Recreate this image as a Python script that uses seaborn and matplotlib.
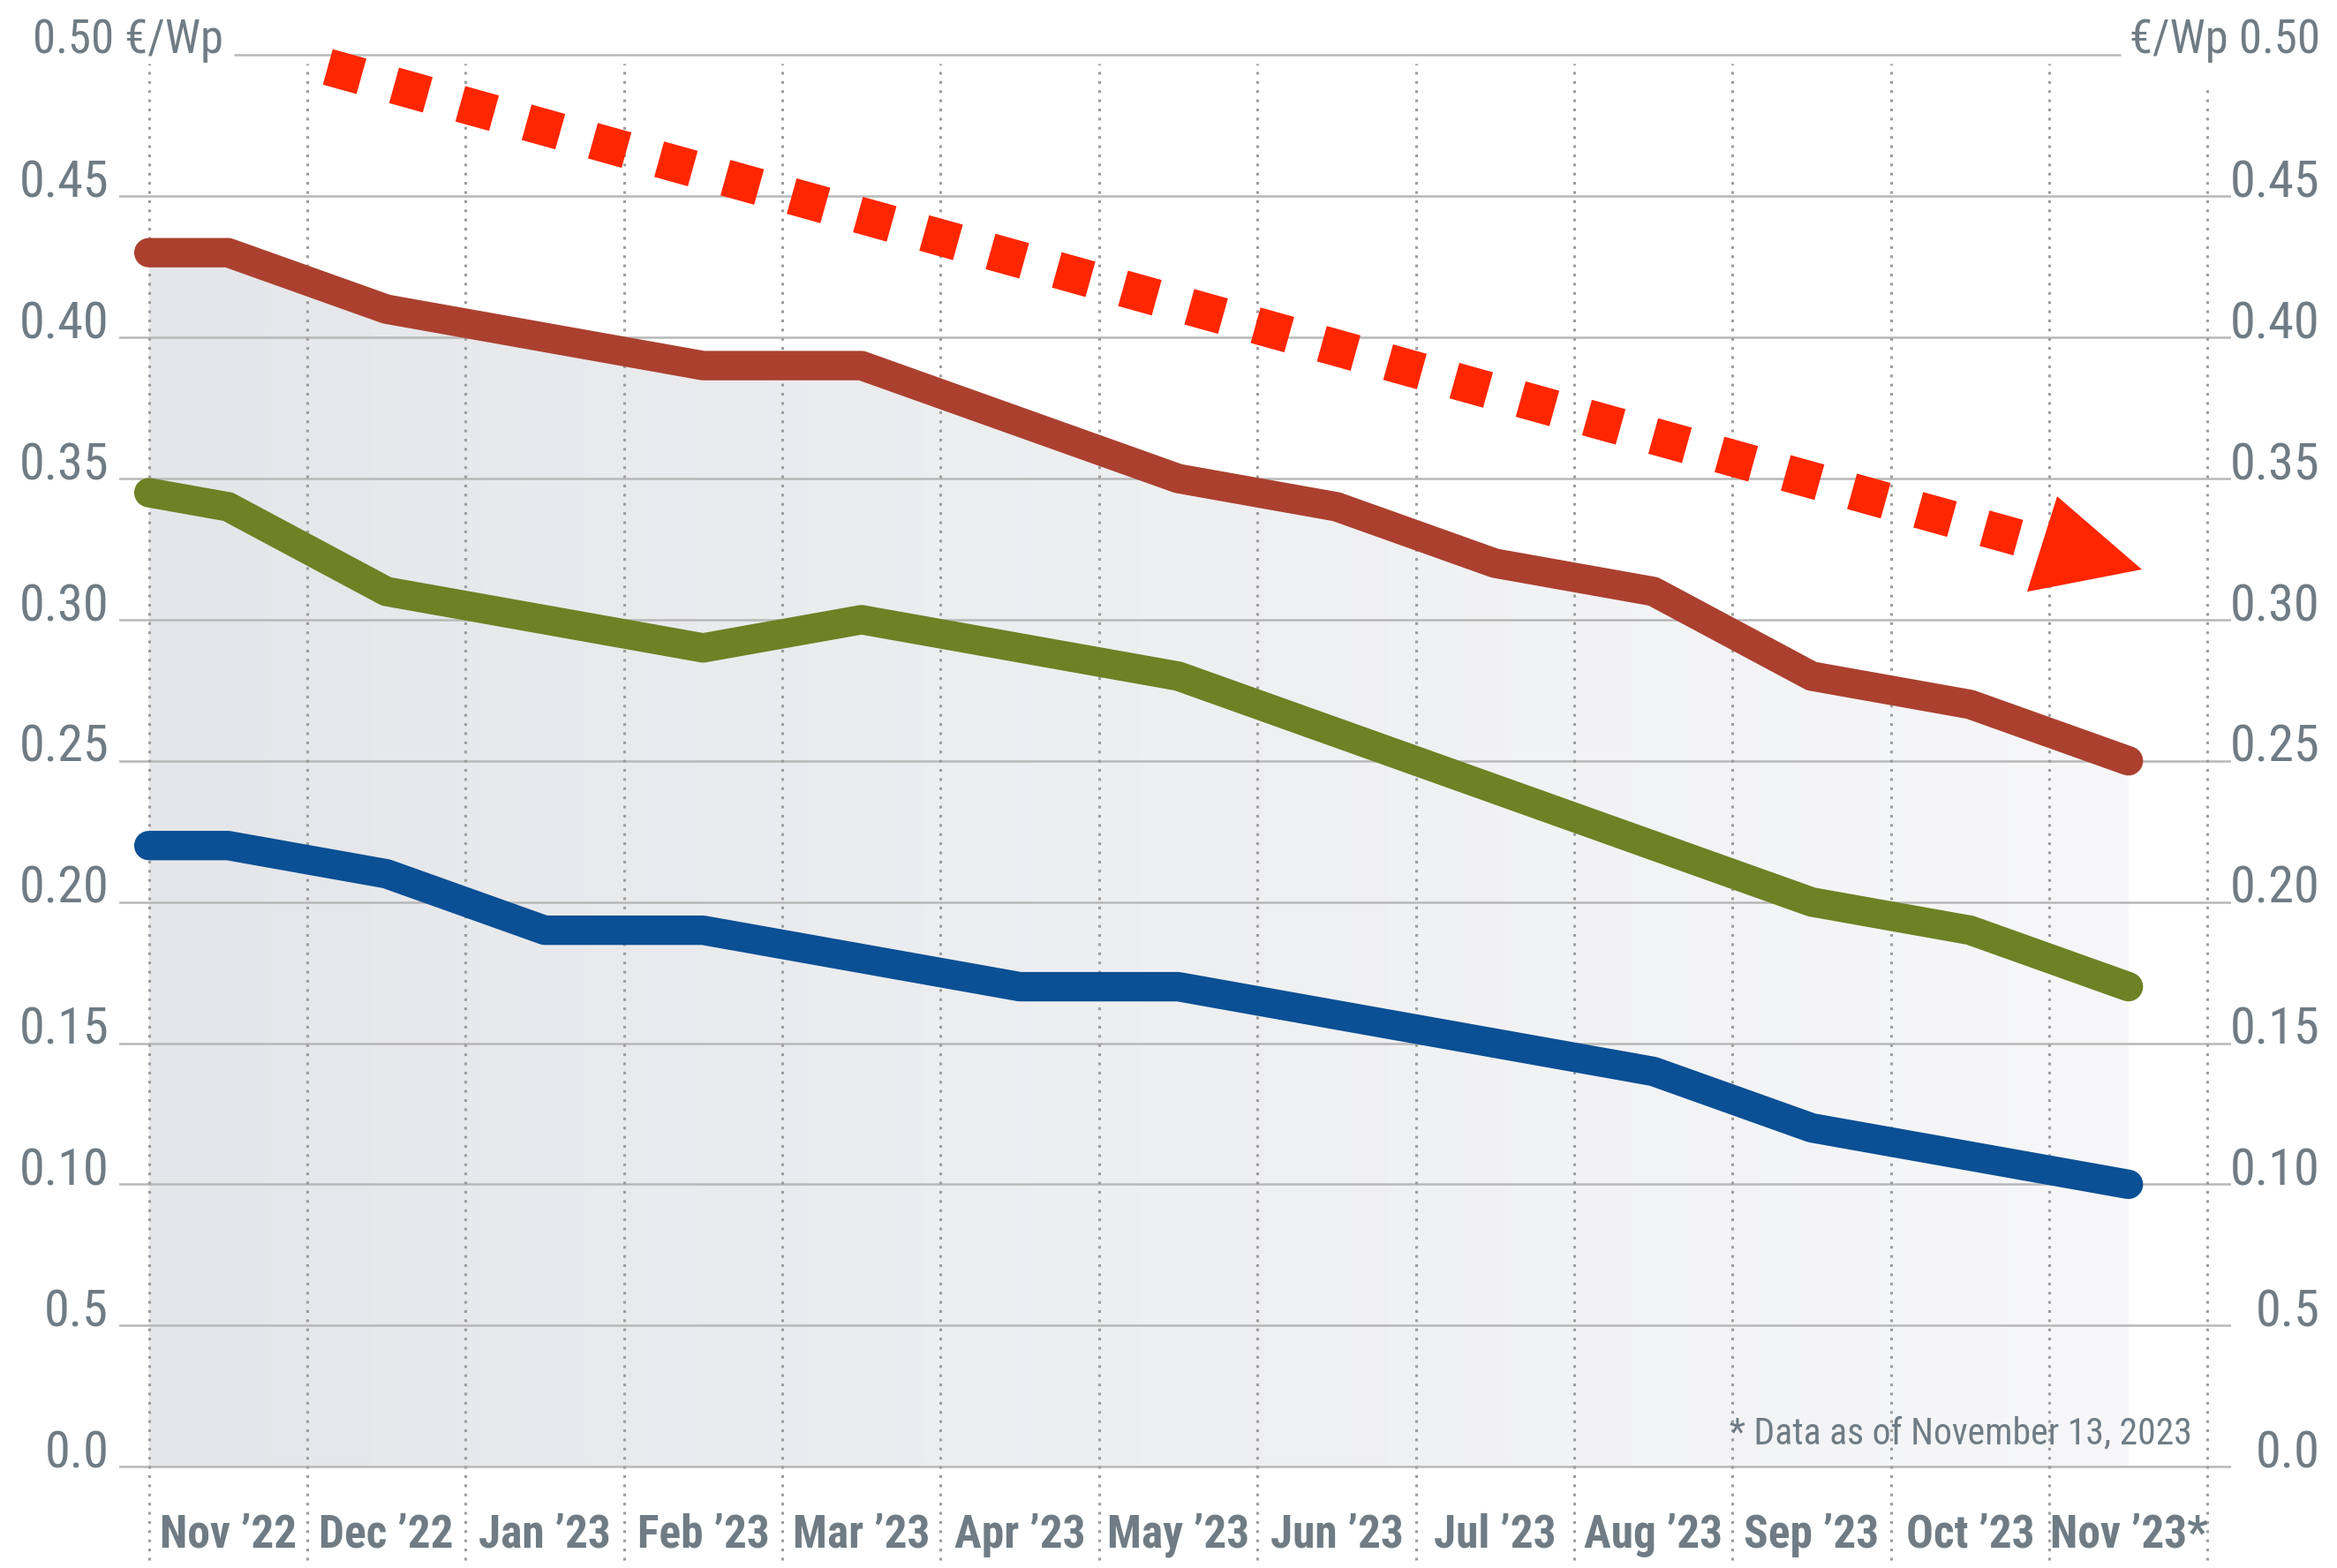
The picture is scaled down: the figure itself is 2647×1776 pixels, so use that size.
import numpy as np
import pandas as pd
import matplotlib
matplotlib.use("Agg")
import matplotlib.pyplot as plt
from matplotlib import font_manager
from matplotlib.colors import LinearSegmentedColormap
import seaborn as sns


MONTHS = ["Nov ’22", "Dec ’22", "Jan ’23", "Feb ’23", "Mar ’23", "Apr ’23", "May ’23",
          "Jun ’23", "Jul ’23", "Aug ’23", "Sep ’23", "Oct ’23", "Nov ’23*"]

# first value sits on the left edge of Nov '22, then one value per month
RED_START = 0.43
RED = [0.43, 0.41, 0.40, 0.39, 0.39, 0.37, 0.35, 0.34, 0.32, 0.31, 0.28, 0.27, 0.25]
GREEN_START = 0.345
GREEN = [0.34, 0.31, 0.30, 0.29, 0.30, 0.29, 0.28, 0.26, 0.24, 0.22, 0.20, 0.19, 0.17]
BLUE_START = 0.22
BLUE = [0.22, 0.21, 0.19, 0.19, 0.18, 0.17, 0.17, 0.16, 0.15, 0.14, 0.12, 0.11, 0.10]

Y_TICKS = [0.0, 0.05, 0.10, 0.15, 0.20, 0.25, 0.30, 0.35, 0.40, 0.45]
Y_LABELS = ["0.0", "0.5", "0.10", "0.15", "0.20", "0.25", "0.30", "0.35", "0.40", "0.45"]
TOP_TICK = 0.50
TOP_LEFT_LABEL = "0.50 €/Wp"
TOP_RIGHT_LABEL = "€/Wp 0.50"
FOOTNOTE = "* Data as of November 13, 2023"

COLORS = {"red": "#ab402f", "green": "#6e8125", "blue": "#0b4f94"}
LABEL_COLOR = "#6f7c85"
GRID_COLOR = "#b8b8b8"
ARROW_COLOR = "#ff2600"

# trend arrow (annotation), data coords
ARROW_FROM = (0.63, 0.4958)
ARROW_BASE = (11.45, 0.3268)
ARROW_HEAD = [(11.55, 0.3437), (11.36, 0.3099), (12.085, 0.3178)]


def build_frame():
    x = [-0.5] + list(range(len(MONTHS)))
    rows = []
    for name, start, vals in [("red", RED_START, RED), ("green", GREEN_START, GREEN),
                              ("blue", BLUE_START, BLUE)]:
        for xi, yi in zip(x, [start] + vals):
            rows.append({"x": xi, "price": yi, "series": name})
    return pd.DataFrame(rows)


def weight_num(w):
    if isinstance(w, (int, float)):
        return w
    return font_manager.weight_dict.get(w, 400)


def pick_narrow(bold):
    """Find an installed condensed face; None if there is none."""
    prefs = ["Liberation Sans Narrow", "Roboto Condensed", "Noto Sans Condensed",
             "Open Sans Condensed", "DejaVu Sans Condensed", "Noto Sans", "Open Sans"]
    cands = []
    for f in font_manager.fontManager.ttflist:
        narrow = ("Narrow" in f.name or "Condensed" in f.name
                  or f.stretch in ("condensed", "semi-condensed", "extra-condensed", 75, 87.5)
                  or "Condensed" in f.fname or "Narrow" in f.fname)
        if not narrow or f.style != "normal":
            continue
        if "Semi" in f.fname or "Extra" in f.fname or "Ultra" in f.fname:
            continue
        rank = prefs.index(f.name) if f.name in prefs else len(prefs)
        wdiff = abs(weight_num(f.weight) - (700 if bold else 400))
        cands.append((rank, wdiff, f.fname))
    if not cands:
        return None
    cands.sort()
    return font_manager.FontProperties(fname=cands[0][2])


sns.set_style("white")
plt.rcParams['font.family'] = ['Liberation Sans Narrow', 'DejaVu Sans']

fp_reg = pick_narrow(False)
fp_bold = pick_narrow(True)
scale = 1.0
if fp_reg is None:
    fp_reg = font_manager.FontProperties(family="DejaVu Sans")
    fp_bold = font_manager.FontProperties(family="DejaVu Sans", weight="bold")
    scale = 0.7

df = build_frame()

fig = plt.figure(figsize=(26.47, 17.76), dpi=100)
fig.patch.set_facecolor("white")
ax = fig.add_axes([80 / 1568, 0, 1417 / 1568, 1])
ax.axis("off")

# grey gradient area below the top line
red_df = df[df.series == "red"]
poly = ax.fill_between(red_df.x, red_df.price, 0, color="none", lw=0)
cmap = LinearSegmentedColormap.from_list("bg", ["#e5e6e9", "#eeeff1", "#f7f7f9"])
grad = np.linspace(0, 1, 256).reshape(1, -1)
im = ax.imshow(grad, cmap=cmap, aspect="auto", extent=[-0.5, 12, 0, max(RED)],
               origin="lower", zorder=0.5)
im.set_clip_path(poly.get_paths()[0], transform=ax.transData)

# horizontal grid lines
for y in Y_TICKS:
    ax.axhline(y, color=GRID_COLOR, lw=1.8, zorder=1)
ax.hlines(TOP_TICK, 0.04, 11.95, color=GRID_COLOR, lw=1.8, zorder=1)

# dotted month separators
for i in range(len(MONTHS) + 1):
    top = 0.497 if i < len(MONTHS) else 0.488
    ax.vlines(i - 0.5, -0.033, top, color="#9d9d9d", lw=2.2,
              linestyles=(0, (1, 2.4)), zorder=1)

sns.lineplot(data=df, x="x", y="price", hue="series", palette=COLORS, sort=False,
             lw=24, solid_capstyle="round", solid_joinstyle="round",
             legend=False, ax=ax, zorder=3)
ax.set_xlim(-0.687, 12.649)
ax.set_ylim(-0.0359, 0.5195)

# red dashed trend arrow
ax.plot([ARROW_FROM[0], ARROW_BASE[0]], [ARROW_FROM[1], ARROW_BASE[1]],
        color=ARROW_COLOR, lw=30, linestyle=(0, (0.95, 0.92)),
        dash_capstyle="butt", zorder=4)
ax.fill([p[0] for p in ARROW_HEAD], [p[1] for p in ARROW_HEAD],
        color=ARROW_COLOR, lw=0, zorder=4)

# y labels, sitting on top of their grid lines
lab = dict(color=LABEL_COLOR, fontsize=42 * scale, va="center", fontproperties=fp_reg)
for y, t in zip(Y_TICKS, Y_LABELS):
    ax.text(-0.753, y + 0.0045, t, ha="right", **lab)
    ax.text(13.21, y + 0.0045, t, ha="right", **lab)
lab["fontsize"] = 38 * scale
ax.text(-1.233, TOP_TICK + 0.0053, TOP_LEFT_LABEL, ha="left", **lab)
ax.text(13.21, TOP_TICK + 0.0053, TOP_RIGHT_LABEL, ha="right", **lab)

# month labels
for i, m in enumerate(MONTHS):
    ax.text(i, -0.0243, m, ha="center", va="center", color=LABEL_COLOR,
            fontproperties=fp_bold, fontsize=37 * scale)

ax.text(12.4, 0.0116, FOOTNOTE, ha="right", va="center", color=LABEL_COLOR,
        fontproperties=fp_reg, fontsize=30 * scale)

fig.savefig("out.png", dpi=100, facecolor="white")
